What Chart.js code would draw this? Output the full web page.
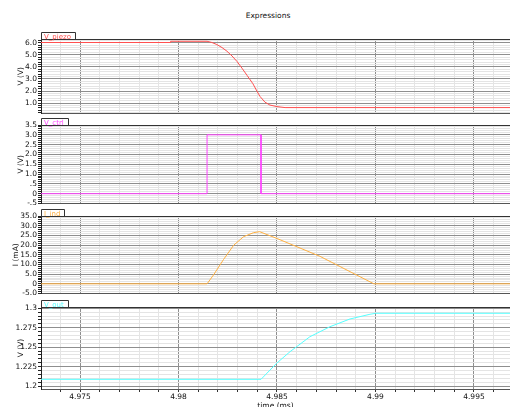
<!DOCTYPE html>
<html>
<head>
<meta charset="utf-8">
<script src="https://cdn.jsdelivr.net/npm/chart.js@4"></script>
<style>
  body { margin: 0; background: #fff; overflow: hidden; }
  #wrap { position: relative; width: 510px; height: 407px; overflow: hidden; }
  #wrap canvas { position: absolute; left: 0; }
  #title { position: absolute; top: 11px; left: 268px; transform: translateX(-50%);
           font: 7.5px 'DejaVu Sans', sans-serif; color: #111; white-space: nowrap; }
</style>
</head>
<body>
<div id="wrap">
  <div id="title">Expressions</div>
  <canvas id="p1" width="510" height="88" style="top:31px"></canvas>
  <canvas id="p2" width="510" height="92" style="top:117px"></canvas>
  <canvas id="p3" width="510" height="91" style="top:208px"></canvas>
  <canvas id="p4" width="510" height="115" style="top:299px"></canvas>
</div>
<script>
// time axis (ms)
const tMin = 4.97302;
const tMax = 4.99683;

// V_piezo
const piezoT = [4.97302, 4.97959, 4.97960, 4.98145, 4.98170, 4.98195, 4.98221, 4.98246, 4.98272, 4.98297,
                4.98322, 4.98348, 4.98378, 4.98398, 4.98414, 4.98439, 4.98464, 4.98500, 4.98541, 4.99683];
const piezoV = [6.02, 6.02, 6.12, 6.12, 6.02, 5.85, 5.6, 5.3, 4.9, 4.45,
                3.9, 3.3, 2.6, 2.0, 1.55, 1.08, 0.84, 0.71, 0.63, 0.63];

// V_ctrl
const ctrlT = [4.97302, 4.98145, 4.98145, 4.98419, 4.98419, 4.99683];
const ctrlV = [0, 0, 3.0, 3.0, 0, 0];

// I_ind (mA)
const indT = [4.97302, 4.98145, 4.98178, 4.98229, 4.98280, 4.98330, 4.98381, 4.98412, 4.98500, 4.98718, 4.98992, 4.99683];
const indI = [0, 0, 4.6, 12.6, 19.9, 24.3, 26.4, 26.9, 23.4, 14.2, 0, 0];

// V_out
const outT = [4.97302, 4.98419, 4.98498, 4.98566, 4.98667, 4.98769, 4.98870, 4.98972, 4.99002, 4.99683];
const outV = [1.2086, 1.2086, 1.2292, 1.2441, 1.2634, 1.2763, 1.2862, 1.2923, 1.2936, 1.2936];

Chart.defaults.font.family = "'DejaVu Sans', sans-serif";
Chart.defaults.font.size = 7.5;
Chart.defaults.color = '#111';

const MAJOR = '#8e8e8e';
const MINOR = '#e4e4e4';

const near = (v, step) => Math.abs(v / step - Math.round(v / step)) < 1e-6;

// regular minor ticks between the scale bounds (the library drops ticks close to the bounds)
function stepTicks(step) {
  return (scale) => {
    const ticks = [];
    for (let k = Math.ceil(scale.min / step - 1e-6); k <= Math.floor(scale.max / step + 1e-6); k++) {
      ticks.push({ value: parseFloat((k * step).toFixed(6)) });
    }
    scale.ticks = ticks;
  };
}

// tab with series name above each panel
const panelTab = {
  id: 'panelTab',
  afterDraw(chart, args, opts) {
    const {left, right, top} = chart.chartArea;
    const c = chart.ctx;
    c.save();
    c.strokeStyle = '#333';
    c.lineWidth = 1;
    c.beginPath();
    c.moveTo(left, top + 0.5);
    c.lineTo(right, top + 0.5);
    c.stroke();
    c.font = "7px 'DejaVu Sans', sans-serif";
    const w = Math.round(c.measureText(opts.text).width) + 7;
    c.fillStyle = '#fff';
    c.fillRect(left, top - 6, w, 6);
    c.beginPath();
    c.moveTo(left + 0.5, top);
    c.lineTo(left + 0.5, top - 6.5);
    c.lineTo(left + w + 0.5, top - 6.5);
    c.lineTo(left + w + 0.5, top);
    c.stroke();
    c.fillStyle = opts.color;
    c.textBaseline = 'alphabetic';
    c.fillText(opts.text, left + 3, top - 0.5);
    c.restore();
  }
};

function xScale(last) {
  return {
    type: 'linear',
    min: tMin,
    max: tMax,
    afterBuildTicks: stepTicks(0.001),
    grid: {
      color: (c) => c.tick && near(c.tick.value, 0.005) ? MAJOR : MINOR,
      tickColor: '#333',
      tickLength: 3,
      drawTicks: last
    },
    border: { color: '#555' },
    ticks: {
      display: last,
      autoSkip: false,
      maxRotation: 0,
      padding: 1,
      callback: (v) => near(v, 0.005) ? String(parseFloat(v.toFixed(3))) : ''
    },
    title: last ? { display: true, text: 'time (ms)', padding: { top: 0, bottom: 3 } } : { display: false },
    afterFit: (s) => { s.height = last ? 25 : 0; }
  };
}

function yScale(min, max, minor, major, fmt, label, titleX) {
  return {
    min: min,
    max: max,
    afterBuildTicks: stepTicks(minor),
    grid: {
      color: (c) => c.tick && near(c.tick.value, major) ? MAJOR : MINOR,
      tickColor: '#222',
      tickLength: 3
    },
    border: { color: '#222' },
    ticks: {
      autoSkip: false,
      padding: 1,
      callback: (v) => near(v, major) ? fmt(v) : ''
    },
    title: { display: true, text: label, padding: { top: titleX, bottom: 0 } },
    afterFit: (s) => { s.width = 41; }
  };
}

function makePanel(id, ts, vs, color, name, y, last) {
  new Chart(document.getElementById(id), {
    type: 'line',
    data: {
      datasets: [{
        label: name,
        data: ts.map((t, i) => ({ x: t, y: vs[i] })),
        borderColor: color,
        borderWidth: 1,
        pointRadius: 0,
        tension: 0
      }]
    },
    options: {
      responsive: false,
      animation: false,
      layout: { padding: { top: 8, bottom: last ? 0 : 1, left: 0, right: 0 } },
      plugins: {
        legend: { display: false },
        tooltip: { enabled: false },
        panelTab: { text: name, color: color }
      },
      scales: { x: xScale(last), y: y }
    },
    plugins: [panelTab]
  });
}

const fmt1 = (v) => v.toFixed(1);
const fmtCtrl = (v) => Math.abs(v) < 1e-9 ? '0' : v.toFixed(1).replace(/^(-?)0\./, '$1.');
const fmtInd = (v) => Math.abs(v) < 1e-9 ? '0' : v.toFixed(1);
const fmtOut = (v) => String(parseFloat(v.toFixed(3)));

makePanel('p1', piezoT, piezoV, '#ff5050', 'V_piezo', yScale(0.14, 6.31, 0.2, 1, fmt1, 'V (V)', 17), false);
makePanel('p2', ctrlT, ctrlV, '#ff44ff', 'V_ctrl', yScale(-0.5, 3.5, 0.1, 0.5, fmtCtrl, 'V (V)', 17), false);
makePanel('p3', indT, indI, '#ffb040', 'I_ind', yScale(-5, 35, 1, 5, fmtInd, 'I (mA)', 12), false);
makePanel('p4', outT, outV, '#55ffff', 'V_out', yScale(1.19614, 1.30167, 0.005, 0.025, fmtOut, 'V (V)', 17), true);
</script>
</body>
</html>
